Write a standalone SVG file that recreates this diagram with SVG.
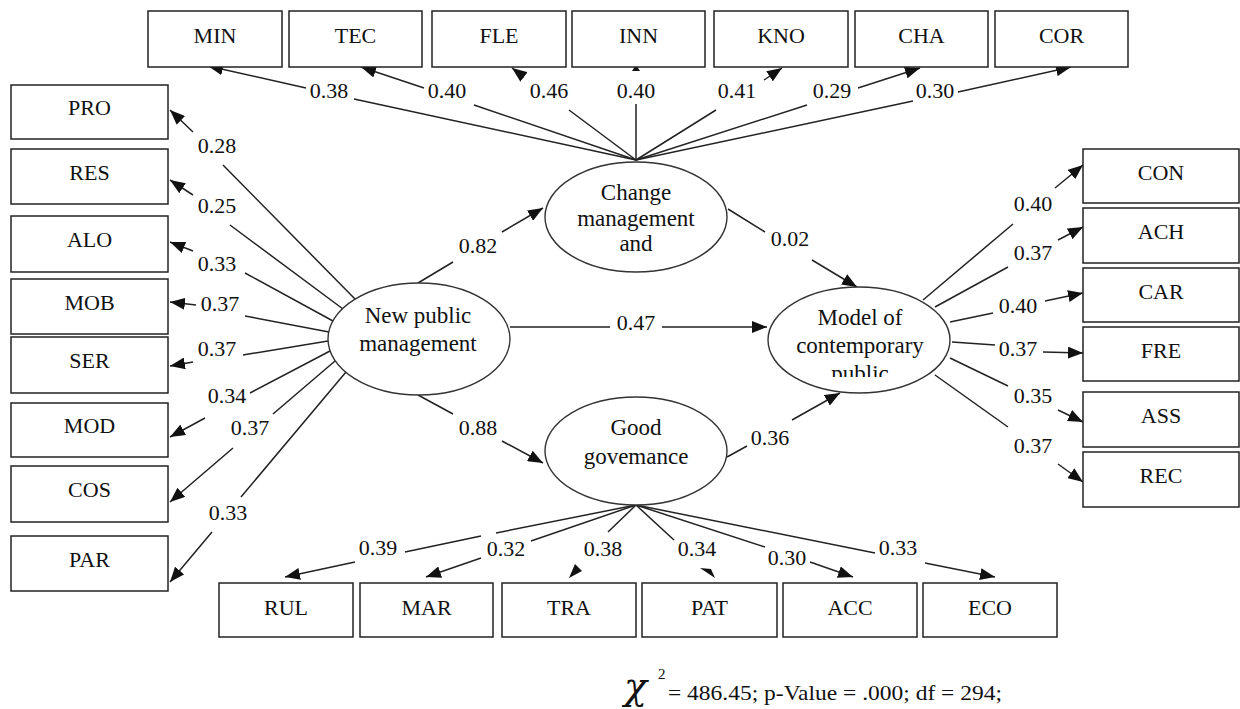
<svg xmlns="http://www.w3.org/2000/svg" width="1240" height="709" viewBox="0 0 1240 709">
<style>
.box{fill:#fff;stroke:#222;stroke-width:1.5}
.ell{fill:#fff;stroke:#333;stroke-width:1.4}
.t{font-family:"Liberation Serif","Times New Roman",serif;fill:#111;text-anchor:middle}
.lbl{font-size:22px}
.etx{font-size:23px}
.num{font-family:"Liberation Serif","Times New Roman",serif;fill:#111;text-anchor:middle;font-size:22px}
.ln{stroke:#222;stroke-width:1.5;fill:none;marker-end:url(#ah)}
.ln2{stroke:#222;stroke-width:1.5;fill:none}
.frag{fill:#111}
</style>
<defs>
<marker id="ah" markerUnits="userSpaceOnUse" markerWidth="16" markerHeight="12" refX="15" refY="6" orient="auto"><path d="M0,0 L15,6 L0,12 z" fill="#111"/></marker>
<clipPath id="clipModel"><rect x="760" y="280" width="200" height="97"/></clipPath>
</defs>
<rect width="1240" height="709" fill="#fff"/>

<g id="connectors">
<!-- top -->
<path class="ln" d="M636,160 L354,99 M306,88 L208,66"/>
<path class="ln" d="M636,160 L474,105 M424,88 L361,67"/>
<path class="ln" d="M636,160 L569,110 M524,77 L512,68"/>
<path class="ln2" d="M636,160 L636,104"/>
<polygon class="frag" points="636,65 632,71 640,71"/>
<path class="ln" d="M636,160 L716,110 M764,80 L782,68"/>
<path class="ln" d="M636,160 L807,105 M858,88 L920,68"/>
<path class="ln" d="M636,160 L913,101 M958,92 L1071,67"/>
<!-- left -->
<path class="ln" d="M355,299 L223,165 M193,132 L170,110"/>
<path class="ln" d="M343,309 L230,225 M193,195 L170,180"/>
<path class="ln" d="M333,321 L245,273 M193,251 L170,242"/>
<path class="ln" d="M329,332 L245,316 M196,305 L170,302"/>
<path class="ln" d="M328,341 L243,355 M193,362 L170,366"/>
<path class="ln" d="M330,351 L250,393 M205,418 L170,437"/>
<path class="ln" d="M335,361 L273,414 M233,448 L170,502"/>
<path class="ln" d="M346,372 L241,497 M212,532 L170,582"/>
<!-- right -->
<path class="ln" d="M923,300 L1013,224 M1055,188 L1083,165"/>
<path class="ln" d="M935,307 L1008,267 M1058,240 L1083,227"/>
<path class="ln" d="M950,322 L993,313 M1045,301 L1083,293"/>
<path class="ln" d="M952,342 L995,345 M1043,352 L1083,353"/>
<path class="ln" d="M950,358 L1008,386 M1058,410 L1083,422"/>
<path class="ln" d="M935,375 L1008,427 M1058,464 L1083,482"/>
<!-- structural -->
<path class="ln" d="M418,283 L453,262 M502,232 L543,208"/>
<path class="ln" d="M728,209 L765,232 M812,260 L857,287"/>
<path class="ln" d="M510,327 L610,327 M662,327 L767,327"/>
<path class="ln" d="M418,395 L453,414 M502,441 L543,463"/>
<path class="ln" d="M727,457 L747,446 M792,420 L840,393"/>
<!-- bottom -->
<path class="ln" d="M636,505 L496,533 M481,536 L405,552 M355,562 L285,577"/>
<path class="ln" d="M636,505 L531,541 M481,558 L426,577"/>
<path class="ln2" d="M636,505 L608,532"/>
<polygon class="frag" points="569,578 582,571 575,564"/>
<path class="ln2" d="M636,505 L674,540"/>
<polygon class="frag" points="700,568 711,569 715,578"/>
<path class="ln" d="M636,505 L765,547 M810,562 L853,577"/>
<path class="ln" d="M636,505 L875,553 M925,563 L995,577"/>
</g>

<g id="node-change">
<ellipse class="ell" cx="636" cy="217" rx="91" ry="55"/>
<text class="t etx" x="636" y="200">Change</text>
<text class="t etx" x="636" y="226">management</text>
<text class="t etx" x="636" y="251">and</text>
</g>
<g id="node-npm">
<ellipse class="ell" cx="419" cy="339" rx="91" ry="56"/>
<text class="t etx" x="418" y="323">New public</text>
<text class="t etx" x="418" y="351">management</text>
</g>
<g id="node-model">
<ellipse class="ell" cx="859" cy="340" rx="91" ry="53"/>
<g clip-path="url(#clipModel)">
<text class="t etx" x="860" y="325">Model of</text>
<text class="t etx" x="860" y="353">contemporary</text>
<text class="t etx" x="860" y="381">public</text>
</g>
</g>
<g id="node-good">
<ellipse class="ell" cx="636" cy="451" rx="91" ry="54"/>
<text class="t etx" x="636" y="435">Good</text>
<text class="t etx" x="636" y="464">govemance</text>
</g>

<g id="node-MIN"><rect class="box" x="148" y="11" width="134" height="56"/><text class="t lbl" x="215" y="43">MIN</text></g>
<g id="node-TEC"><rect class="box" x="289" y="11" width="133" height="56"/><text class="t lbl" x="355.5" y="43">TEC</text></g>
<g id="node-FLE"><rect class="box" x="432" y="11" width="134" height="56"/><text class="t lbl" x="499" y="43">FLE</text></g>
<g id="node-INN"><rect class="box" x="572" y="11" width="133" height="56"/><text class="t lbl" x="638.5" y="43">INN</text></g>
<g id="node-KNO"><rect class="box" x="714" y="11" width="134" height="56"/><text class="t lbl" x="781" y="43">KNO</text></g>
<g id="node-CHA"><rect class="box" x="855" y="11" width="133" height="56"/><text class="t lbl" x="921.5" y="43">CHA</text></g>
<g id="node-COR"><rect class="box" x="995" y="11" width="133" height="56"/><text class="t lbl" x="1061.5" y="43">COR</text></g>

<g id="node-PRO"><rect class="box" x="11" y="85" width="157" height="54"/><text class="t lbl" x="89.5" y="115">PRO</text></g>
<g id="node-RES"><rect class="box" x="11" y="149" width="157" height="55"/><text class="t lbl" x="89.5" y="180">RES</text></g>
<g id="node-ALO"><rect class="box" x="11" y="216" width="157" height="56"/><text class="t lbl" x="89.5" y="247">ALO</text></g>
<g id="node-MOB"><rect class="box" x="11" y="279" width="157" height="55"/><text class="t lbl" x="89.5" y="310">MOB</text></g>
<g id="node-SER"><rect class="box" x="11" y="337" width="157" height="56"/><text class="t lbl" x="89.5" y="368">SER</text></g>
<g id="node-MOD"><rect class="box" x="11" y="403" width="157" height="54"/><text class="t lbl" x="89.5" y="433">MOD</text></g>
<g id="node-COS"><rect class="box" x="11" y="466" width="157" height="56"/><text class="t lbl" x="89.5" y="497">COS</text></g>
<g id="node-PAR"><rect class="box" x="11" y="536" width="157" height="55"/><text class="t lbl" x="89.5" y="567">PAR</text></g>

<g id="node-CON"><rect class="box" x="1083" y="149" width="156" height="54"/><text class="t lbl" x="1161" y="180">CON</text></g>
<g id="node-ACH"><rect class="box" x="1083" y="208" width="156" height="55"/><text class="t lbl" x="1161" y="239">ACH</text></g>
<g id="node-CAR"><rect class="box" x="1083" y="268" width="156" height="54"/><text class="t lbl" x="1161" y="299">CAR</text></g>
<g id="node-FRE"><rect class="box" x="1083" y="327" width="156" height="54"/><text class="t lbl" x="1161" y="358">FRE</text></g>
<g id="node-ASS"><rect class="box" x="1083" y="392" width="156" height="55"/><text class="t lbl" x="1161" y="423">ASS</text></g>
<g id="node-REC"><rect class="box" x="1083" y="452" width="156" height="55"/><text class="t lbl" x="1161" y="483">REC</text></g>

<g id="node-RUL"><rect class="box" x="219" y="583" width="134" height="54"/><text class="t lbl" x="286" y="615">RUL</text></g>
<g id="node-MAR"><rect class="box" x="360" y="583" width="133" height="54"/><text class="t lbl" x="426.5" y="615">MAR</text></g>
<g id="node-TRA"><rect class="box" x="502" y="583" width="134" height="54"/><text class="t lbl" x="569" y="615">TRA</text></g>
<g id="node-PAT"><rect class="box" x="642" y="583" width="135" height="54"/><text class="t lbl" x="709.5" y="615">PAT</text></g>
<g id="node-ACC"><rect class="box" x="783" y="583" width="134" height="54"/><text class="t lbl" x="850" y="615">ACC</text></g>
<g id="node-ECO"><rect class="box" x="923" y="583" width="134" height="54"/><text class="t lbl" x="990" y="615">ECO</text></g>

<g id="labels">
<text class="num" x="329" y="98">0.38</text>
<text class="num" x="447" y="98">0.40</text>
<text class="num" x="549" y="98">0.46</text>
<text class="num" x="636" y="98">0.40</text>
<text class="num" x="737" y="98">0.41</text>
<text class="num" x="832" y="98">0.29</text>
<text class="num" x="935" y="98">0.30</text>

<text class="num" x="217" y="153">0.28</text>
<text class="num" x="217" y="213">0.25</text>
<text class="num" x="217" y="271">0.33</text>
<text class="num" x="220" y="311">0.37</text>
<text class="num" x="217" y="356">0.37</text>
<text class="num" x="227" y="403">0.34</text>
<text class="num" x="250" y="435">0.37</text>
<text class="num" x="228" y="520">0.33</text>

<text class="num" x="1033" y="211">0.40</text>
<text class="num" x="1033" y="260">0.37</text>
<text class="num" x="1018" y="313">0.40</text>
<text class="num" x="1018" y="356">0.37</text>
<text class="num" x="1033" y="403">0.35</text>
<text class="num" x="1033" y="453">0.37</text>

<text class="num" x="478" y="253">0.82</text>
<text class="num" x="790" y="246">0.02</text>
<text class="num" x="636" y="330">0.47</text>
<text class="num" x="478" y="435">0.88</text>
<text class="num" x="770" y="445">0.36</text>

<text class="num" x="378" y="555">0.39</text>
<text class="num" x="506" y="556">0.32</text>
<text class="num" x="603" y="556">0.38</text>
<text class="num" x="697" y="556">0.34</text>
<text class="num" x="787" y="565">0.30</text>
<text class="num" x="898" y="555">0.33</text>
</g>

<g id="formula" fill="#111">
<text x="624" y="699" font-family="'DejaVu Serif',serif" font-size="38" font-style="italic">χ</text>
<text x="658" y="679" font-family="'Liberation Serif','Times New Roman',serif" font-size="15">2</text>
<text x="668" y="700" font-family="'Liberation Serif','Times New Roman',serif" font-size="22" textLength="334" lengthAdjust="spacingAndGlyphs">= 486.45; p-Value = .000; df = 294;</text>
</g>
</svg>
